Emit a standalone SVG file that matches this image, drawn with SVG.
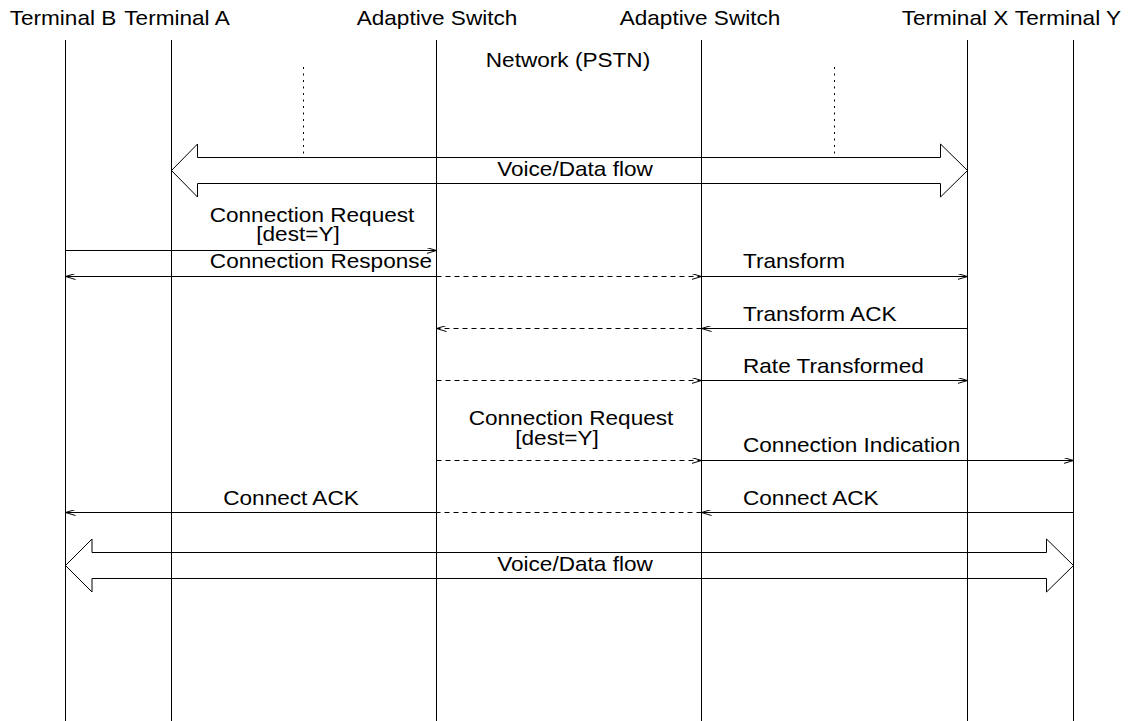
<svg xmlns="http://www.w3.org/2000/svg" width="1135" height="721" viewBox="0 0 1135 721">
  <style>
    .lbl { font-family: "Liberation Sans", Arial, sans-serif; font-size: 20px; fill: #000; }
    .mid { text-anchor: middle; }
    .life { stroke: #000; stroke-width: 1; fill: none; }
    .msg { stroke: #000; stroke-width: 1; fill: none; }
    .dash { stroke-dasharray: 5 4; }
    .dot { stroke: #000; stroke-width: 1; stroke-dasharray: 2 4.5; }
    .flow { stroke: #000; stroke-width: 1; fill: none; }
  </style>
  <defs>
    <marker id="open" viewBox="0 0 10 6" refX="10" refY="3" markerWidth="10" markerHeight="6" markerUnits="userSpaceOnUse" orient="auto">
      <path d="M0,0 L10,3 L0,6" fill="none" stroke="#000" stroke-width="1"/>
    </marker>
  </defs>
  <rect width="1135" height="721" fill="#fff"/>

  <!-- participants: header label and lifeline -->
  <g id="terminal-b">
    <text class="lbl mid" transform="translate(63,25) scale(1.13,1)">Terminal B</text>
    <line class="life" x1="65.5" y1="40" x2="65.5" y2="721"/>
  </g>
  <g id="terminal-a">
    <text class="lbl mid" transform="translate(177,25) scale(1.13,1)">Terminal A</text>
    <line class="life" x1="171.5" y1="40" x2="171.5" y2="721"/>
  </g>
  <g id="switch-1">
    <text class="lbl mid" transform="translate(437,25) scale(1.13,1)">Adaptive Switch</text>
    <line class="life" x1="436.5" y1="40" x2="436.5" y2="721"/>
  </g>
  <g id="switch-2">
    <text class="lbl mid" transform="translate(700,25) scale(1.13,1)">Adaptive Switch</text>
    <line class="life" x1="701.5" y1="40" x2="701.5" y2="721"/>
  </g>
  <g id="terminal-x">
    <text class="lbl mid" transform="translate(955,25) scale(1.13,1)">Terminal X</text>
    <line class="life" x1="967.5" y1="40" x2="967.5" y2="721"/>
  </g>
  <g id="terminal-y">
    <text class="lbl mid" transform="translate(1068,25) scale(1.13,1)">Terminal Y</text>
    <line class="life" x1="1073.5" y1="40" x2="1073.5" y2="721"/>
  </g>

  <!-- network cloud marker -->
  <g id="network">
    <text class="lbl mid" transform="translate(568,67) scale(1.13,1)">Network (PSTN)</text>
    <line class="dot" x1="303.5" y1="67" x2="303.5" y2="156"/>
    <line class="dot" x1="834.5" y1="67" x2="834.5" y2="156"/>
  </g>

  <!-- message connectors -->
  <g id="connectors">
    <!-- voice/data flow A <-> X -->
    <polygon class="flow" points="171.5,170.5 197.5,144 197.5,157.5 940.5,157.5 940.5,144 967.5,170.5 940.5,197 940.5,183.5 197.5,183.5 197.5,197"/>
    <text class="lbl mid" transform="translate(575,176) scale(1.13,1)">Voice/Data flow</text>

    <!-- connection request B -> switch -->
    <line class="msg" x1="65.5" y1="250.5" x2="436.5" y2="250.5" marker-end="url(#open)"/>
    <text class="lbl mid" transform="translate(312,222) scale(1.13,1)">Connection Request</text>
    <text class="lbl mid" transform="translate(298,241) scale(1.13,1)">[dest=Y]</text>

    <!-- connection response / transform -->
    <line class="msg" x1="436.5" y1="276.5" x2="65.5" y2="276.5" marker-end="url(#open)"/>
    <text class="lbl mid" transform="translate(321,268) scale(1.13,1)">Connection Response</text>
    <line class="msg dash" x1="436.5" y1="276.5" x2="701.5" y2="276.5" marker-end="url(#open)"/>
    <line class="msg" x1="701.5" y1="276.5" x2="967.5" y2="276.5" marker-end="url(#open)"/>
    <text class="lbl" transform="translate(743,268) scale(1.13,1)">Transform</text>

    <!-- transform ack -->
    <line class="msg" x1="967.5" y1="328.5" x2="701.5" y2="328.5" marker-end="url(#open)"/>
    <line class="msg dash" x1="701.5" y1="328.5" x2="436.5" y2="328.5" marker-end="url(#open)"/>
    <text class="lbl" transform="translate(743,321) scale(1.13,1)">Transform ACK</text>

    <!-- rate transformed -->
    <line class="msg dash" x1="436.5" y1="380.5" x2="701.5" y2="380.5" marker-end="url(#open)"/>
    <line class="msg" x1="701.5" y1="380.5" x2="967.5" y2="380.5" marker-end="url(#open)"/>
    <text class="lbl" transform="translate(743,373) scale(1.13,1)">Rate Transformed</text>

    <!-- connection request across network / indication to Y -->
    <line class="msg dash" x1="436.5" y1="460.5" x2="701.5" y2="460.5" marker-end="url(#open)"/>
    <text class="lbl mid" transform="translate(571,425) scale(1.13,1)">Connection Request</text>
    <text class="lbl mid" transform="translate(557,445) scale(1.13,1)">[dest=Y]</text>
    <line class="msg" x1="701.5" y1="460.5" x2="1073.5" y2="460.5" marker-end="url(#open)"/>
    <text class="lbl" transform="translate(743,452) scale(1.13,1)">Connection Indication</text>

    <!-- connect ack back to B -->
    <line class="msg" x1="1073.5" y1="512.5" x2="701.5" y2="512.5" marker-end="url(#open)"/>
    <text class="lbl" transform="translate(743,505) scale(1.13,1)">Connect ACK</text>
    <line class="msg dash" x1="701.5" y1="512.5" x2="436.5" y2="512.5"/>
    <line class="msg" x1="436.5" y1="512.5" x2="65.5" y2="512.5" marker-end="url(#open)"/>
    <text class="lbl mid" transform="translate(291,505) scale(1.13,1)">Connect ACK</text>

    <!-- voice/data flow B <-> Y -->
    <polygon class="flow" points="65.5,565.5 92,539 92,552.5 1046.5,552.5 1046.5,539 1073.5,565.5 1046.5,592 1046.5,578.5 92,578.5 92,592"/>
    <text class="lbl mid" transform="translate(575,571) scale(1.13,1)">Voice/Data flow</text>
  </g>
</svg>
